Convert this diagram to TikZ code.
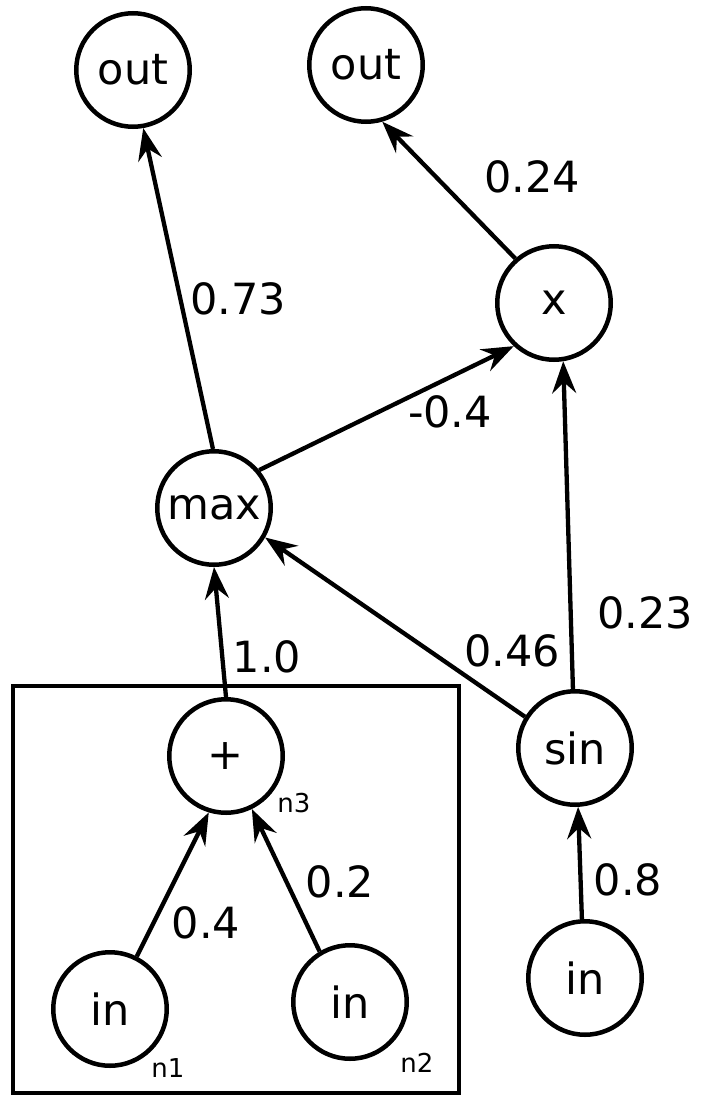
\documentclass[tikz,border=0pt]{standalone}
\usepackage{fontspec}
\setmainfont{DejaVu Sans}
\usetikzlibrary{arrows.meta}
\begin{document}
\begin{tikzpicture}[x=1pt,y=-1pt,
  op/.style={draw,circle,line width=4.5pt,minimum size=113.5pt,inner sep=0pt,
    font=\fontsize{43}{50}\selectfont},
  weight/.style={inner sep=0pt,font=\fontsize{43}{50}\selectfont},
  tag/.style={inner sep=0pt,font=\fontsize{26}{30}\selectfont},
  edge/.style={line width=4.3pt,-{Stealth[length=32pt,width=24pt,inset=11pt]}}]
\useasboundingbox (0,0) rectangle (701,1097);

% grouping frame around the sum sub-graph
\draw[line width=4.5pt] (13,686) rectangle (459,1093);

% operation nodes
\node[op] (out1) at (133,70) {out};
\node[op] (out2) at (366,65) {out};
\node[op] (mul)  at (554,303) {x};
\node[op] (max)  at (214,508) {max};
\node[op] (plus) at (226,756) {+};
\node[op] (sin)  at (575,748) {sin};
\node[op] (in1)  at (110,1009) {in};
\node[op] (in2)  at (350,1002) {in};
\node[op] (in3)  at (585,978) {in};

% node tags
\node[tag] (t1) at (168,1068) {n1};
\node[tag] (t2) at (417,1063) {n2};
\node[tag] (t3) at (294,803) {n3};

% connections
\draw[edge] (max.91) -- (out1.-80);
\draw[edge] (mul.131) -- (out2.-74);
\draw[edge] (max.40) -- (mul.227);
\draw[edge] (sin.92) -- (mul.-81);
\draw[edge] (sin.148) -- (max.-30);
\draw[edge] (plus.north) -- (max.south);
\draw[edge] (in1.63) -- (plus.-107);
\draw[edge] (in2.121) -- (plus.-64);
\draw[edge] (in3.93) -- (sin.-87);

% weights
\node[weight] (w1) at (238,299) {0.73};
\node[weight] (w2) at (532,177) {0.24};
\node[weight] (w3) at (450,412) {-0.4};
\node[weight] (w4) at (512,651) {0.46};
\node[weight] (w5) at (645,613) {0.23};
\node[weight] (w6) at (267,657) {1.0};
\node[weight] (w7) at (206,923) {0.4};
\node[weight] (w8) at (340,882) {0.2};
\node[weight] (w9) at (628,880) {0.8};
\end{tikzpicture}
\end{document}
